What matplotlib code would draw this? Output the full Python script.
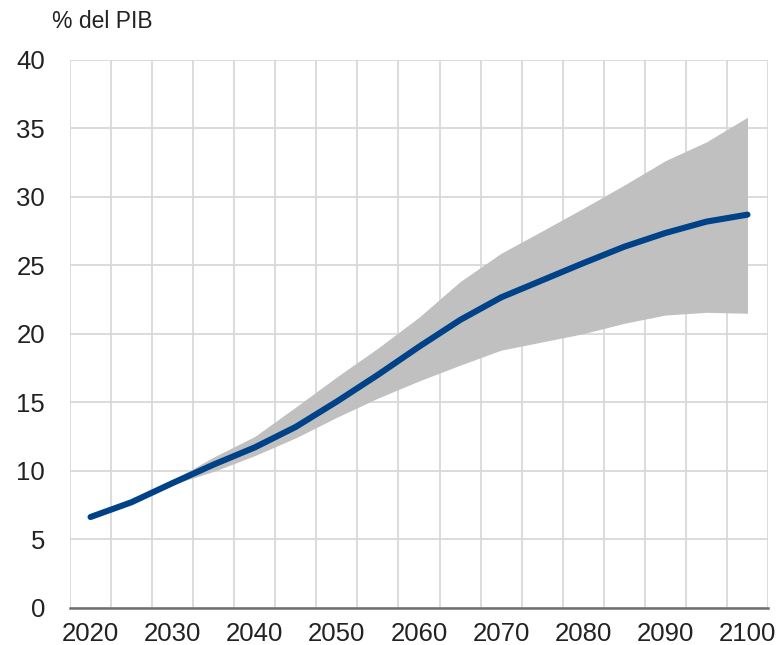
import matplotlib
matplotlib.use("Agg")
import matplotlib.pyplot as plt
import numpy as np

plt.rcParams['font.family'] = ['Liberation Sans', 'DejaVu Sans']

# Projection: central path and uncertainty band (% of GDP)
years = [2020, 2025, 2030, 2035, 2040, 2045, 2050, 2055, 2060, 2065,
         2070, 2075, 2080, 2085, 2090, 2095, 2100]
central = [6.62, 7.70, 9.10, 10.45, 11.70, 13.20, 15.05, 17.00, 19.05, 21.00,
           22.65, 23.90, 25.15, 26.35, 27.35, 28.18, 28.69]
upper = [6.62, 7.70, 9.30, 11.00, 12.50, 14.65, 16.85, 18.95, 21.20, 23.80,
         25.87, 27.50, 29.15, 30.85, 32.63, 34.00, 35.80]
lower = [6.62, 7.70, 9.00, 9.95, 11.10, 12.40, 13.90, 15.30, 16.55, 17.70,
         18.80, 19.40, 20.00, 20.76, 21.36, 21.56, 21.49]

x_labels = [2020, 2030, 2040, 2050, 2060, 2070, 2080, 2090, 2100]
y_ticks = [0, 5, 10, 15, 20, 25, 30, 35, 40]

W, H = 779, 645
fig = plt.figure(figsize=(W / 100, H / 100), dpi=100)
ax = fig.add_axes([70 / W, 1 - 607.7 / H, (768 - 70) / W, (607.7 - 59.7) / H])

grid_c = '#d9d9d9'
ax.fill_between(years, lower, upper, color='#c0c0c0', linewidth=0, zorder=2)
ax.plot(years, central, color='#004288', linewidth=4.4,
        solid_capstyle='round', solid_joinstyle='round', zorder=3)

ax.set_xlim(2017.5, 2102.5)
ax.set_ylim(0, 40)

ax.set_xticks(x_labels)
ax.set_xticklabels([str(v) for v in x_labels])
ax.set_xticks(np.arange(2017.5, 2103, 5), minor=True)
ax.set_yticks(y_ticks)

ax.grid(False)
ax.grid(True, which='minor', axis='x', color=grid_c, linewidth=1.3, zorder=1)
ax.grid(True, which='major', axis='y', color=grid_c, linewidth=1.3, zorder=1)
ax.set_axisbelow(True)

for side in ('left', 'right', 'top'):
    ax.spines[side].set_visible(False)
ax.spines['bottom'].set_color('#6e6e6e')
ax.spines['bottom'].set_linewidth(1.8)
ax.spines['bottom'].set_zorder(4)

ax.tick_params(axis='both', which='both', length=0)
ax.tick_params(axis='x', which='major', pad=10, labelsize=18.5, labelcolor='#222222')
ax.tick_params(axis='y', which='major', pad=18, labelsize=18.5, labelcolor='#222222')

fig.text(52 / W, 1 - 22 / H, '% del PIB', fontsize=16.5, color='#222222',
         ha='left', va='center')

fig.savefig('out.png', dpi=100)
